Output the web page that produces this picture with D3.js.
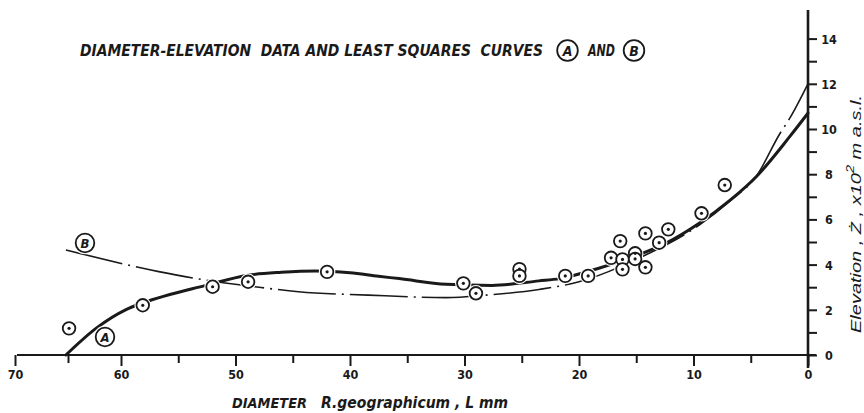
<!DOCTYPE html>
<html>
<head>
<meta charset="utf-8">
<script src="https://cdn.jsdelivr.net/npm/d3@7"></script>
<style>
  html, body { margin: 0; padding: 0; background: #fff; }
  svg { display: block; }
  .lab { font-family: "DejaVu Sans Condensed", "Liberation Sans Narrow", "DejaVu Sans", sans-serif; fill: #1a1a1a; }
  .ylab { font-family: "Liberation Sans", Arial, sans-serif; fill: #1a1a1a; }
</style>
</head>
<body>
<svg id="chart" width="864" height="413"></svg>
<script>
// ---------- data ----------
const diameters  = [64.9, 58.1, 52.0, 48.9, 42.0, 30.1, 29.0, 25.2, 25.2, 21.2, 19.2, 17.2, 16.4, 16.2, 16.2, 15.1, 15.1, 14.2, 14.2, 13.0, 12.2, 9.3, 7.27];
const elevations = [1.18, 2.2, 3.02, 3.24, 3.68, 3.17, 2.73, 3.8, 3.5, 3.5, 3.5, 4.3, 5.04, 4.23, 3.79, 4.5, 4.25, 5.38, 3.88, 4.97, 5.56, 6.27, 7.52];

const curveAx = [65.2, 62.3, 59.6, 58.1, 52.6, 48.9, 46.0, 43.0, 40.0, 37.5, 35.7, 31.6, 27.6, 23.5, 21.7, 18.2, 14.7, 12.4, 9.5, 6.8, 4.5, 1.6, 0];
const curveAy = [0, 1.2, 2.0, 2.3, 3.08, 3.53, 3.66, 3.72, 3.64, 3.48, 3.38, 3.13, 3.08, 3.28, 3.38, 3.85, 4.45, 4.95, 5.83, 6.85, 7.9, 9.66, 10.7];

const curveBx = [65.2, 56.7, 52.7, 48.3, 44.5, 38.4, 31.6, 28.1, 23.5, 20.0, 14.7, 9.5, 6.8, 4.5, 2.45, 1.6, 0];
const curveBy = [4.65, 3.69, 3.32, 3.02, 2.8, 2.65, 2.54, 2.65, 2.9, 3.24, 4.3, 5.75, 6.82, 7.92, 9.8, 10.47, 12.0];

const xTicks = d3.range(0, 71, 5);
const xTickLabels = [0, 10, 20, 30, 40, 50, 60, 70];
const yTicks = d3.range(0, 15, 1);
const yTickLabels = [0, 2, 4, 6, 8, 10, 12, 14];

const titleText = "DIAMETER-ELEVATION  DATA AND LEAST SQUARES  CURVES";
const xTitle1 = "DIAMETER";
const xTitle2 = "R.geographicum , L mm";
const yTitleA = "Elevation , Ż , x10";
const yTitleB = " m a.s.l.";

// ---------- scales ----------
const svg = d3.select("#chart");
const ink = "#1a1a1a";
const x = d3.scaleLinear().domain([0, 60, 70]).range([808, 121, 15]);
const y = d3.scaleLinear().domain([0, 14]).range([355, 38.6]);

// ---------- axes ----------
const xAxis = d3.axisBottom(x)
  .tickValues(xTicks)
  .tickSize(0)
  .tickFormat(d => xTickLabels.includes(d) ? d : "");
const gx = svg.append("g").attr("transform", `translate(0,${y(0)})`).call(xAxis);
gx.select(".domain").remove();
gx.selectAll(".tick line")
  .attr("y2", d => d % 10 === 0 ? 11 : 8)
  .attr("stroke", ink).attr("stroke-width", 2);
gx.selectAll(".tick text")
  .attr("class", "lab")
  .attr("y", 24).attr("dy", 0)
  .attr("font-size", 12.5).attr("font-weight", "bold")
  .attr("fill", ink);

const yAxis = d3.axisRight(y)
  .tickValues(yTicks)
  .tickSize(0)
  .tickFormat(d => yTickLabels.includes(d) ? d : "");
const gy = svg.append("g").attr("transform", `translate(${x(0)},0)`).call(yAxis);
gy.select(".domain").remove();
gy.selectAll(".tick line")
  .attr("x2", 9).attr("stroke", ink).attr("stroke-width", 2);
gy.selectAll(".tick text")
  .attr("class", "lab")
  .attr("x", 21).attr("dy", "0.36em")
  .attr("text-anchor", "middle")
  .attr("font-size", 12.5).attr("font-weight", "bold")
  .attr("fill", ink);

// axis lines
svg.append("line")
  .attr("x1", 17).attr("x2", x(0) + 8)
  .attr("y1", y(0)).attr("y2", y(0))
  .attr("stroke", ink).attr("stroke-width", 2.2);
svg.append("line")
  .attr("x1", x(0)).attr("x2", x(0))
  .attr("y1", 10).attr("y2", y(0) + 13)
  .attr("stroke", ink).attr("stroke-width", 2.6);

// ---------- curves ----------
const line = d3.line()
  .x(d => x(d[0])).y(d => y(d[1]))
  .curve(d3.curveMonotoneX);

const dataA = curveAx.map((v, i) => [v, curveAy[i]]);
const dataB = curveBx.map((v, i) => [v, curveBy[i]]);

svg.append("path").datum(dataB)
  .attr("d", line)
  .attr("fill", "none").attr("stroke", ink)
  .attr("stroke-width", 1.6)
  .attr("stroke-dasharray", "58 6 2 6");

svg.append("path").datum(dataA)
  .attr("d", line)
  .attr("fill", "none").attr("stroke", ink)
  .attr("stroke-width", 3)
  .attr("stroke-linecap", "round");

// ---------- points ----------
const pts = diameters.map((d, i) => [d, elevations[i]]);
svg.append("g").selectAll("circle").data(pts).join("circle")
  .attr("cx", d => x(d[0])).attr("cy", d => y(d[1]))
  .attr("r", 8.3).attr("fill", "#fff");
svg.append("g").selectAll("circle").data(pts).join("circle")
  .attr("cx", d => x(d[0])).attr("cy", d => y(d[1]))
  .attr("r", 6.3).attr("fill", "#fff")
  .attr("stroke", ink).attr("stroke-width", 1.8);
svg.append("g").selectAll("circle").data(pts).join("circle")
  .attr("cx", d => x(d[0])).attr("cy", d => y(d[1]))
  .attr("r", 1.6).attr("fill", ink);

// ---------- circled labels ----------
function circled(cx, cy, r, t, fs) {
  svg.append("circle").attr("cx", cx).attr("cy", cy).attr("r", r + 2).attr("fill", "#fff");
  svg.append("circle").attr("cx", cx).attr("cy", cy).attr("r", r)
    .attr("fill", "#fff").attr("stroke", ink).attr("stroke-width", 1.8);
  svg.append("text").attr("class", "lab")
    .attr("x", cx).attr("y", cy).attr("dy", "0.36em")
    .attr("text-anchor", "middle")
    .attr("font-size", fs).attr("font-style", "italic").attr("font-weight", "bold")
    .text(t);
}
circled(105, 337, 9.3, "A", 13);
circled(85, 243, 9.3, "B", 13);

// ---------- title ----------
svg.append("text").attr("class", "lab")
  .attr("x", 80).attr("y", 56)
  .attr("font-size", 15).attr("font-style", "italic").attr("font-weight", "bold")
  .attr("textLength", 463).attr("lengthAdjust", "spacingAndGlyphs")
  .attr("xml:space", "preserve")
  .text(titleText);
circled(567.5, 50.5, 10.3, "A", 14);
svg.append("text").attr("class", "lab")
  .attr("x", 588).attr("y", 56)
  .attr("font-size", 15).attr("font-style", "italic").attr("font-weight", "bold")
  .attr("textLength", 27).attr("lengthAdjust", "spacingAndGlyphs")
  .text("AND");
circled(634, 50.5, 10.3, "B", 14);

// ---------- x title ----------
svg.append("text").attr("class", "lab")
  .attr("x", 232).attr("y", 408)
  .attr("font-size", 14).attr("font-style", "italic").attr("font-weight", "bold")
  .attr("textLength", 75).attr("lengthAdjust", "spacingAndGlyphs")
  .text(xTitle1);
svg.append("text").attr("class", "lab")
  .attr("x", 321).attr("y", 408)
  .attr("font-size", 15).attr("font-style", "italic").attr("font-weight", "bold")
  .attr("textLength", 187).attr("lengthAdjust", "spacingAndGlyphs")
  .attr("xml:space", "preserve")
  .text(xTitle2);

// ---------- y title ----------
const yt = svg.append("text").attr("class", "ylab")
  .attr("transform", "translate(861,214) rotate(-90)")
  .attr("text-anchor", "middle")
  .attr("font-size", 15).attr("font-style", "italic")
  .attr("textLength", 238).attr("lengthAdjust", "spacingAndGlyphs")
  .attr("xml:space", "preserve");
yt.append("tspan").text(yTitleA);
yt.append("tspan").attr("dy", -7).attr("font-size", 11).text("2");
yt.append("tspan").attr("dy", 7).text(yTitleB);
</script>
</body>
</html>
